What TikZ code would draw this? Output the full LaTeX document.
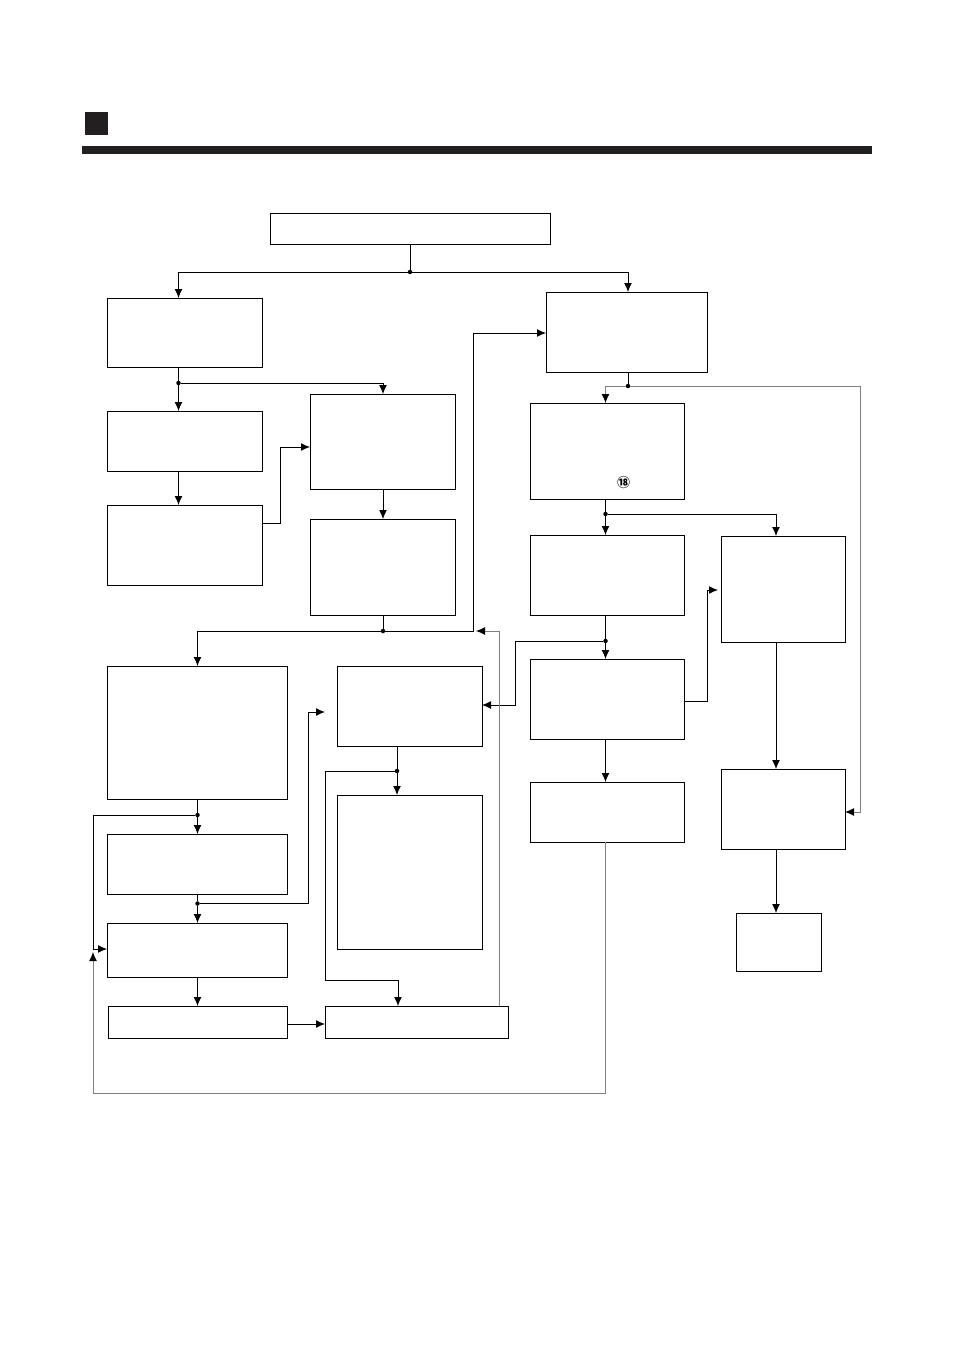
\documentclass[tikz,border=0pt]{standalone}
\usepackage{fontspec}
\newfontfamily\cjkfont{Noto Sans CJK JP}
\usepackage{tikz}
\usetikzlibrary{arrows.meta,calc}
\definecolor{inkblack}{HTML}{231F20}
\tikzset{
         boxnode/.style={draw,line width=1pt,inner sep=0,outer sep=0,anchor=north west},
         dotnode/.style={circle,fill,inner sep=0,outer sep=0,minimum size=4.5pt},
         wire/.style={line width=1pt,-{Latex[length=9pt,width=8pt]}},
         plainwire/.style={line width=1pt},
         graywire/.style={draw=gray,line width=1pt},
         grayarrow/.style={graywire,-{Latex[length=9pt,width=8pt,color=black,fill=black]}}
        }
\begin{document}
\begin{tikzpicture}[x=1pt,y=-1pt]
\useasboundingbox(0,0)rectangle(954,1348);
%heading
\node[fill=inkblack,inner sep=0,outer sep=0,minimum width=23pt,minimum height=23pt,anchor=north west](headmark)at(85,112){};
\node[fill=inkblack,inner sep=0,outer sep=0,minimum width=790pt,minimum height=8pt,anchor=north west](headbar)at(82,146){};
%left column
\node[boxnode,minimum width=280pt,minimum height=31.5pt](start)at(270,213.5){};
\node[boxnode,minimum width=155pt,minimum height=69pt](leftone)at(107,298){};
\node[boxnode,minimum width=155pt,minimum height=60pt](lefttwo)at(107,411){};
\node[boxnode,minimum width=155pt,minimum height=80pt](leftthree)at(107,505){};
\node[boxnode,minimum width=145pt,minimum height=95pt](midone)at(310,394){};
\node[boxnode,minimum width=145pt,minimum height=96pt](midtwo)at(310,519){};
%lower left
\node[boxnode,minimum width=180pt,minimum height=133pt](lowone)at(107,666){};
\node[boxnode,minimum width=180pt,minimum height=60pt](lowtwo)at(107,834){};
\node[boxnode,minimum width=180pt,minimum height=54pt](lowthree)at(107,923){};
\node[boxnode,minimum width=179pt,minimum height=32pt](lowfour)at(108,1006){};
\node[boxnode,minimum width=183pt,minimum height=32pt](lowfive)at(325,1006){};
\node[boxnode,minimum width=145pt,minimum height=80pt](innerone)at(337,666){};
\node[boxnode,minimum width=145pt,minimum height=154pt](innertwo)at(337,795){};
%right column
\node[boxnode,minimum width=161pt,minimum height=80pt](rightone)at(546,292){};
\node[boxnode,minimum width=154pt,minimum height=96pt](righttwo)at(530,403){};
\node[boxnode,minimum width=154pt,minimum height=80pt](rightthree)at(530,535){};
\node[boxnode,minimum width=154pt,minimum height=80pt](rightfour)at(530,659){};
\node[boxnode,minimum width=154pt,minimum height=60pt](rightfive)at(530,782){};
\node[boxnode,minimum width=124pt,minimum height=106pt](farone)at(721,536){};
\node[boxnode,minimum width=124pt,minimum height=80pt](fartwo)at(721,769){};
\node[boxnode,minimum width=85pt,minimum height=58pt](farthree)at(736,913){};
\node[font=\cjkfont\bfseries\fontsize{13}{13}\selectfont,inner sep=0](marknum)at(623.5,482.5){⑱};
%junctions
\node[dotnode](jstart)at(410,272){};
\node[dotnode](jleft)at(178.5,383){};
\node[dotnode](jmid)at(383,631){};
\node[dotnode](jlowone)at(197.5,815){};
\node[dotnode](jlowtwo)at(197.5,903.5){};
\node[dotnode](jinner)at(397,771){};
\node[dotnode](jrightone)at(628,386){};
\node[dotnode](jrighttwo)at(605.5,514){};
\node[dotnode](jrightthree)at(605.5,641){};
%free ends
\coordinate(tipinner)at(325,712);
\coordinate(tipfar)at(718,590);
\coordinate(tipreturn)at(476,631);
\coordinate(tiploop)at(93,952);
%top branches
\draw[plainwire](start.south-|jstart)--(jstart);
\draw[wire](jstart)-|(leftone.north-|jleft);
\draw[wire](jstart)-|(rightone.north-|jrightone);
%left column
\draw[plainwire](leftone.south-|jleft)--(jleft);
\draw[wire](jleft)--(lefttwo.north-|jleft);
\draw[wire](jleft)-|(midone.north-|383,0);
\draw[wire](lefttwo.south-|jleft)--(leftthree.north-|jleft);
\draw[wire]($(leftthree.east)+(0,-22)$)-|++(18,0)|-($(midone.west)+(0,5.5)$);
\draw[wire](midone.south-|383,0)--(midtwo.north-|383,0);
\draw[plainwire](midtwo.south-|jmid)--(jmid);
\draw[wire](jmid)-|(lowone.north-|jlowone);
\draw[wire](jmid)-|(473,333)--(rightone.west|-473,333);
%lower left
\draw[plainwire](lowone.south-|jlowone)--(jlowone);
\draw[wire](jlowone)--(lowtwo.north-|jlowone);
\draw[wire](jlowone)-|(93,949)--(lowthree.west|-0,949);
\draw[plainwire](lowtwo.south-|jlowtwo)--(jlowtwo);
\draw[wire](jlowtwo)--(lowthree.north-|jlowtwo);
\draw[wire](jlowtwo)-|(308,712)--(tipinner);
\draw[wire](lowthree.south-|jlowtwo)--(lowfour.north-|jlowtwo);
\draw[wire](lowfour.east|-0,1024)--(lowfive.west|-0,1024);
%inner boxes
\draw[plainwire](innerone.south-|jinner)--(jinner);
\draw[wire](jinner)--(innertwo.north-|jinner);
\draw[wire](jinner)-|(325,980)-|(lowfive.north-|398,0);
%right column
\draw[plainwire](rightone.south-|jrightone)--(jrightone);
\draw[grayarrow](jrightone)-|(righttwo.north-|jrighttwo);
\draw[grayarrow](jrightone)-|(860,812)--(fartwo.east|-0,812);
\draw[plainwire](righttwo.south-|jrighttwo)--(jrighttwo);
\draw[wire](jrighttwo)--(rightthree.north-|jrighttwo);
\draw[wire](jrighttwo)-|(farone.north-|776,0);
\draw[plainwire](rightthree.south-|jrightthree)--(jrightthree);
\draw[wire](jrightthree)--(rightfour.north-|jrightthree);
\draw[wire](jrightthree)-|(515,705)--(innerone.east|-0,705);
\draw[wire](rightfour.east|-0,701)-|(707,590)--(tipfar);
\draw[wire](rightfour.south-|jrightthree)--(rightfive.north-|jrightthree);
\draw[wire](farone.south-|776,0)--(fartwo.north-|776,0);
\draw[wire](fartwo.south-|776,0)--(farthree.north-|776,0);
%gray returns
\draw[grayarrow](rightfive.south-|jrightthree)|-(93,1093)--(tiploop);
\draw[grayarrow](lowfive.north-|499,0)|-(tipreturn);
\end{tikzpicture}
\end{document}
